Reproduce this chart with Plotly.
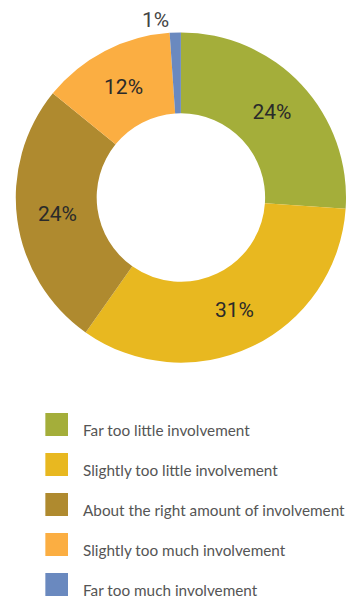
import plotly.graph_objects as go

# Survey responses: perceived level of involvement
categories = [
    "Far too little involvement",
    "Slightly too little involvement",
    "About the right amount of involvement",
    "Slightly too much involvement",
    "Far too much involvement",
]
values = [24, 31, 24, 12, 1]
colors = ["#A4AE3A", "#E8B820", "#AF8A2F", "#FBAE42", "#6A89BF"]

W, H = 352, 599


def px_x(x):
    return x / W


def px_y(y):
    return 1 - y / H


fig = go.Figure(
    go.Pie(
        labels=categories,
        values=values,
        hole=0.51,
        sort=False,
        direction="clockwise",
        rotation=0,
        marker=dict(colors=colors, line=dict(width=0)),
        texttemplate="%{value}%",
        textposition=["inside", "inside", "inside", "inside", "outside"],
        insidetextorientation="horizontal",
        textfont=dict(family="Roboto", size=21, color="#2a2a2a"),
        outsidetextfont=dict(family="Roboto", size=21, color="#444444"),
        domain=dict(x=[px_x(16), px_x(351)], y=[px_y(364), px_y(31)]),
        showlegend=False,
        hoverinfo="label+value",
    )
)

# Hand-built legend: large colour squares with labels beside them
shapes = []
annotations = []
for i, (name, col) in enumerate(zip(categories, colors)):
    cy = 424.5 + 40 * i
    shapes.append(
        dict(
            type="rect",
            xref="paper",
            yref="paper",
            x0=px_x(46),
            x1=px_x(69),
            y0=px_y(cy + 11.5),
            y1=px_y(cy - 11.5),
            fillcolor=col,
            line=dict(width=0),
        )
    )
    annotations.append(
        dict(
            xref="paper",
            yref="paper",
            x=px_x(83),
            y=px_y(cy + 5.5),
            xanchor="left",
            yanchor="middle",
            text=name,
            showarrow=False,
            borderpad=0,
            font=dict(family="Lato", size=15.3, color="#555555"),
        )
    )

fig.update_layout(
    width=W,
    height=H,
    margin=dict(l=0, r=0, t=0, b=0),
    paper_bgcolor="white",
    plot_bgcolor="white",
    shapes=shapes,
    annotations=annotations,
    uniformtext=dict(minsize=21, mode="show"),
)

fig.write_html("out.html")
